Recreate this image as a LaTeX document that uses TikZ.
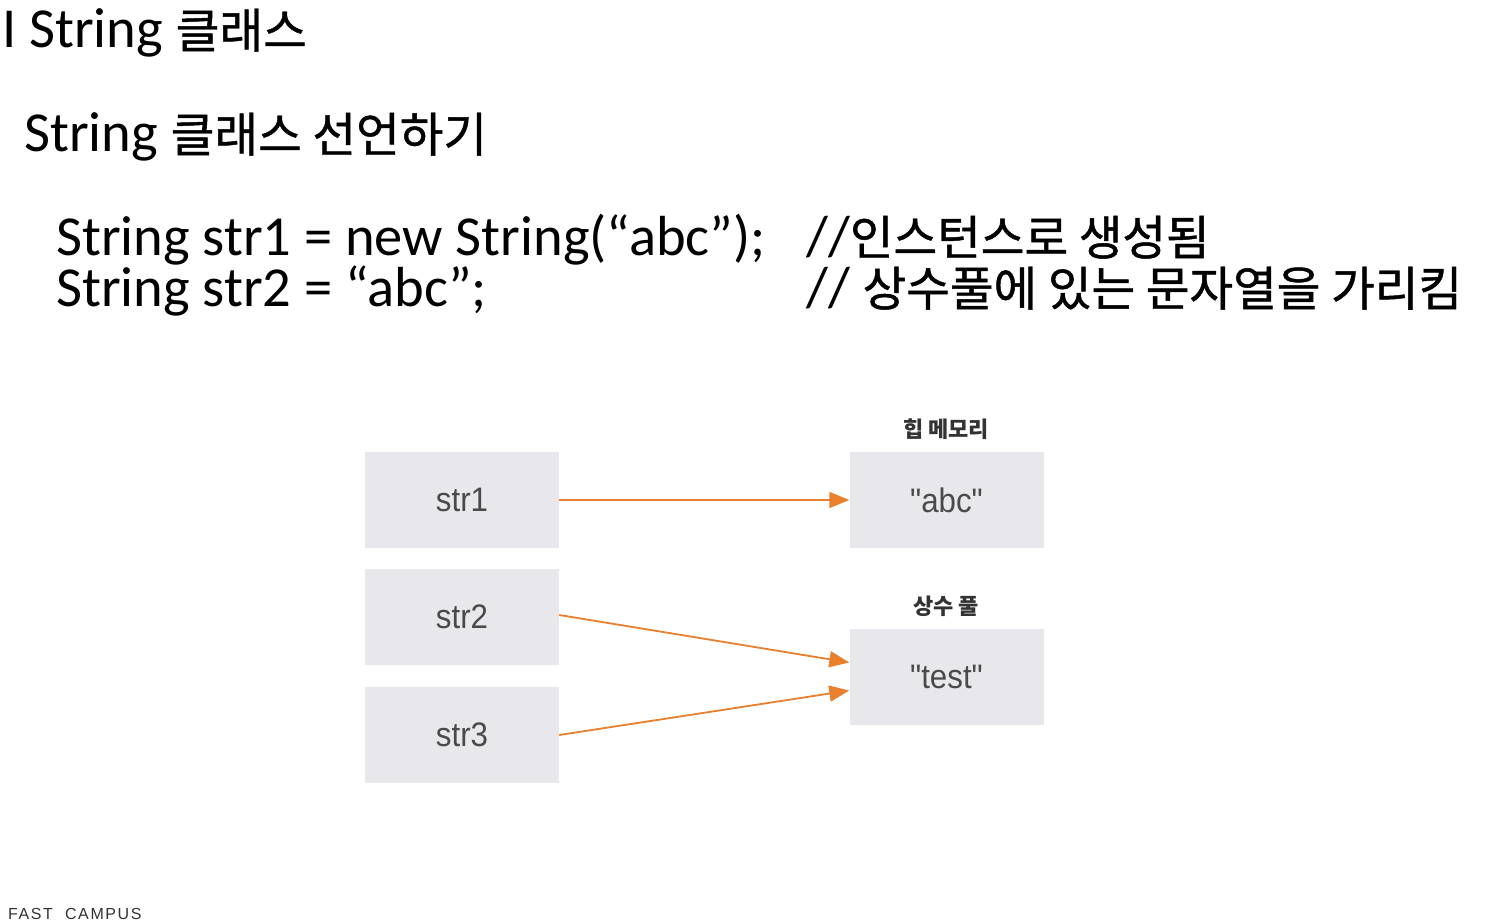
\documentclass[tikz,border=0pt]{standalone}
\usepackage{fontspec}
\setmainfont{Carlito}
\newfontfamily\kr{Noto Sans CJK KR}[Scale=0.84,FakeBold=1]
\newfontfamily\krlab{Noto Sans CJK KR}
\newfontfamily\boxfont{Liberation Sans}[FakeStretch=0.92]
\newfontfamily\brand{Liberation Sans}[LetterSpace=10]
\usetikzlibrary{arrows.meta,calc}
\definecolor{boxgray}{HTML}{E8E8EC}
\definecolor{arroworange}{HTML}{E8802E}
\definecolor{boxtext}{HTML}{4A4A4A}
\definecolor{labtext}{HTML}{333333}
\tikzset{
  big/.style={anchor=base west,inner sep=0pt,font=\fontsize{56.5}{60}\selectfont,text=black},
  membox/.style={fill=boxgray,minimum width=194pt,minimum height=96pt,inner sep=0pt,
    font=\boxfont\fontsize{34}{38}\selectfont,text=boxtext},
  memlabel/.style={inner sep=0pt,font=\krlab\bfseries\fontsize{22}{26}\selectfont,text=labtext},
  ref/.style={draw=arroworange,line width=1.8pt,-{Triangle[length=20pt,width=16pt]}}
}
\begin{document}
\begin{tikzpicture}[x=1pt,y=-1pt]
\useasboundingbox[fill=white] (0,0) rectangle (1491,923);
% headings
\node[big] (title) at (2,48) {I String {\kr 클래스}};
\node[big] (sub) at (24,152) {String {\kr 클래스 선언하기}};
% code
\node[big] (code1) at (56,255) {String str1 = new String(“abc”);};
\node[big] (code2) at (56,306) {String str2 = “abc”;};
\node[big] (com1) at (806,255) {//{\kr 인스턴스로 생성됨}};
\node[big] (com2) at (806,306) {// {\kr 상수풀에 있는 문자열을 가리킴}};
% diagram
\node[membox] (s1) at (462,500) {str1};
\node[membox] (s2) at (462,617) {str2};
\node[membox] (s3) at (462,735) {str3};
\node[membox] (abc) at (946.5,500) {"abc"};
\node[membox] (test) at (946.5,676.5) {"test"};
\node[memlabel] (heap) at (946,429) {힙 메모리};
\node[memlabel] (pool) at (946,606) {상수 풀};
\draw[ref] (s1.east) -- (abc.west);
\draw[ref] ($(s2.east)+(0,-2)$) -- ($(test.west)+(0,-14)$);
\draw[ref] (s3.east) -- ($(test.west)+(0,14)$);
% footer
\node[anchor=base west,inner sep=0pt,font=\brand\fontsize{16}{18}\selectfont,text=labtext] (brand) at (8,919) {FAST\ \ CAMPUS};
\end{tikzpicture}
\end{document}
